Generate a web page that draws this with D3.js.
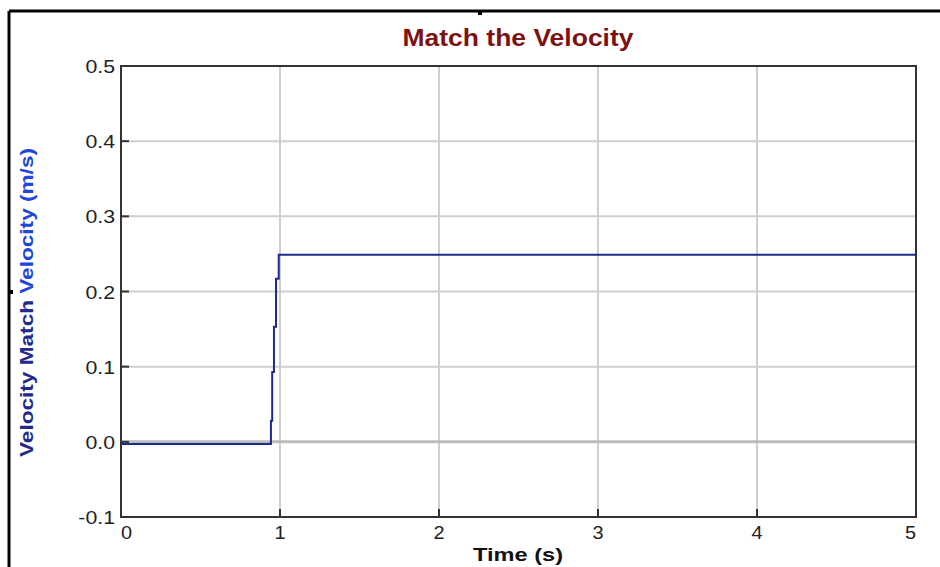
<!DOCTYPE html>
<html>
<head>
<meta charset="utf-8">
<script src="https://cdn.jsdelivr.net/npm/d3@7"></script>
<style>
  body { margin: 0; background: #fff; }
  svg { display: block; font-family: "Liberation Sans", Arial, sans-serif; }
</style>
</head>
<body>
<script>
// data (time in s, velocity in m/s)
const timeVals = [0, 0.943, 0.951, 0.962, 0.975, 0.992, 5];
const velocityVals = [-0.003, 0.028, 0.093, 0.153, 0.217, 0.249, 0.249];
const xTicks = [0, 1, 2, 3, 4, 5];
const yTicks = [-0.1, 0, 0.1, 0.2, 0.3, 0.4, 0.5];

const W = 940, H = 567;
const plot = { left: 121, right: 916, top: 66, bottom: 517 };

const svg = d3.select("body").append("svg").attr("width", W).attr("height", H);

// stretch text a bit wider like the original rendering
const widen = (sel, k) => sel.each(function () {
  const w = this.getComputedTextLength();
  d3.select(this).attr("textLength", w * k).attr("lengthAdjust", "spacingAndGlyphs");
});

// window frame
svg.append("line").attr("x1", 9).attr("y1", 11).attr("x2", W).attr("y2", 11)
  .attr("stroke", "#000").attr("stroke-width", 3);
svg.append("line").attr("x1", 9).attr("y1", 11).attr("x2", 9).attr("y2", H)
  .attr("stroke", "#000").attr("stroke-width", 3);
svg.append("rect").attr("x", 478).attr("y", 10).attr("width", 4).attr("height", 5).attr("fill", "#000");
svg.append("rect").attr("x", 8).attr("y", 290).attr("width", 5).attr("height", 4).attr("fill", "#000");

const x = d3.scaleLinear().domain([0, 5]).range([plot.left, plot.right]);
const y = d3.scaleLinear().domain([-0.1, 0.5]).range([plot.bottom, plot.top]);

// grid
svg.append("g").selectAll("line").data(xTicks.slice(1, -1)).join("line")
  .attr("x1", d => x(d)).attr("x2", d => x(d))
  .attr("y1", plot.top).attr("y2", plot.bottom)
  .attr("stroke", "#cfcfcf").attr("stroke-width", 2);
svg.append("g").selectAll("line").data(yTicks.slice(1, -1)).join("line")
  .attr("x1", plot.left).attr("x2", plot.right)
  .attr("y1", d => y(d)).attr("y2", d => y(d))
  .attr("stroke", d => d === 0 ? "#bcbcbc" : "#cfcfcf")
  .attr("stroke-width", d => d === 0 ? 3 : 2);

// inner ticks
svg.append("g").selectAll("line").data(yTicks).join("line")
  .attr("x1", plot.left).attr("x2", plot.left + 8)
  .attr("y1", d => y(d)).attr("y2", d => y(d))
  .attr("stroke", "#333").attr("stroke-width", 2);
svg.append("g").selectAll("line").data(xTicks).join("line")
  .attr("x1", d => x(d)).attr("x2", d => x(d))
  .attr("y1", plot.bottom).attr("y2", plot.bottom - 8)
  .attr("stroke", "#333").attr("stroke-width", 2);

// the velocity trace
const line = d3.line()
  .x((d, i) => x(timeVals[i]))
  .y(d => y(d))
  .curve(d3.curveStepAfter);
svg.append("path").datum(velocityVals)
  .attr("d", line)
  .attr("fill", "none")
  .attr("stroke", "#1c2b8f")
  .attr("stroke-width", 2);

// plot frame
svg.append("rect")
  .attr("x", plot.left).attr("y", plot.top)
  .attr("width", plot.right - plot.left).attr("height", plot.bottom - plot.top)
  .attr("fill", "none").attr("stroke", "#333").attr("stroke-width", 2);

// tick labels (plain hyphen for the minus, as in the original)
const fmt = v => d3.format(".1f")(v).replace("\u2212", "-");
svg.append("g").selectAll("text").data(yTicks).join("text")
  .attr("x", 115).attr("y", d => y(d) + 7)
  .attr("text-anchor", "end")
  .attr("font-size", 19).attr("fill", "#222")
  .text(fmt)
  .call(widen, 1.12);
svg.append("g").selectAll("text").data(xTicks).join("text")
  .attr("x", d => x(d)).attr("y", 539)
  .attr("text-anchor", (d, i) => i === 0 ? "start" : i === xTicks.length - 1 ? "end" : "middle")
  .attr("font-size", 19).attr("fill", "#222")
  .text(d => d)
  .call(widen, 1.05);

// titles
svg.append("text").attr("x", 518).attr("y", 46)
  .attr("text-anchor", "middle").attr("font-size", 24).attr("font-weight", "bold")
  .attr("fill", "#7d1111").text("Match the Velocity")
  .attr("textLength", 231).attr("lengthAdjust", "spacingAndGlyphs");

svg.append("text").attr("x", 518).attr("y", 561)
  .attr("text-anchor", "middle").attr("font-size", 19).attr("font-weight", "bold")
  .attr("fill", "#111").text("Time (s)")
  .attr("textLength", 90).attr("lengthAdjust", "spacingAndGlyphs");

const yLab = svg.append("text")
  .attr("transform", "translate(33,457) rotate(-90)")
  .attr("font-size", 18).attr("font-weight", "bold")
  .attr("textLength", 309).attr("lengthAdjust", "spacingAndGlyphs");
yLab.append("tspan").attr("fill", "#1f2a8c").text("Velocity Match ");
yLab.append("tspan").attr("fill", "#2146dc").text("Velocity (m/s)");
</script>
</body>
</html>
